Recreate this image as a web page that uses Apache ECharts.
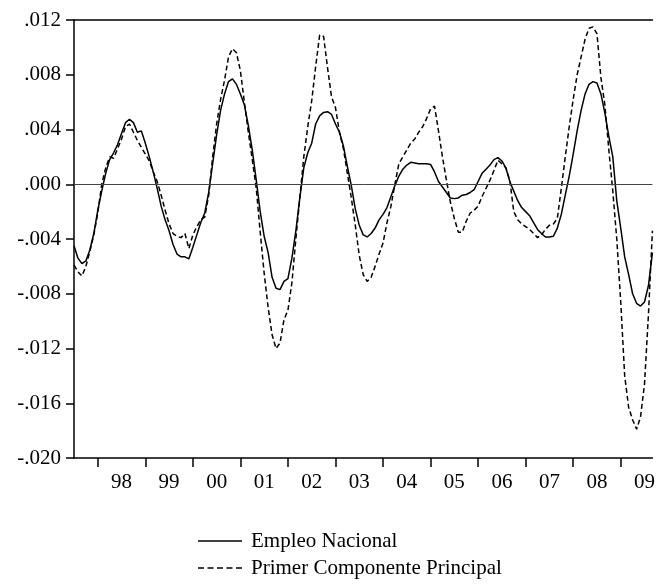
<!DOCTYPE html>
<html>
<head>
<meta charset="utf-8">
<script src="https://cdn.jsdelivr.net/npm/echarts@6/dist/echarts.min.js"></script>
<style>
  html, body { margin: 0; padding: 0; background: #ffffff; }
  #chart { width: 658px; height: 585px; }
</style>
</head>
<body>
<div id="chart"></div>
<script>
  // monthly data, first point = Jul 1997 (index 0), last = Sep 2009 (index 146)
  const yearLabels = ['98', '99', '00', '01', '02', '03', '04', '05', '06', '07', '08', '09']
  const yTicks = [-0.020, -0.016, -0.012, -0.008, -0.004, 0.000, 0.004, 0.008, 0.012]

  const empleoNacional = [
    -0.0045, -0.0054, -0.0058, -0.0056, -0.0048, -0.0036,
    -0.0019, -0.0005, 0.0008, 0.0018, 0.0023, 0.0029, 0.0037, 0.0045, 0.00475, 0.0045, 0.0038, 0.0039,
    0.0030, 0.0020, 0.0009, -0.0003, -0.0016, -0.0026, -0.0034, -0.0044, -0.0051, -0.0053, -0.0053, -0.00545,
    -0.0046, -0.0037, -0.0028, -0.0021, -0.0006, 0.0015, 0.0036, 0.0054, 0.0066, 0.0075, 0.0077, 0.0073,
    0.0066, 0.0058, 0.0043, 0.0025, 0.0003, -0.0020, -0.0038, -0.0050, -0.0068, -0.0076, -0.0077, -0.0071,
    -0.0069, -0.0054, -0.0034, -0.0010, 0.0012, 0.0023, 0.0030, 0.0044, 0.0050, 0.00525, 0.0053, 0.0051,
    0.0044, 0.0038, 0.0028, 0.0013, -0.0001, -0.0018, -0.0030, -0.0037, -0.00385, -0.0036, -0.0032, -0.0026,
    -0.0022, -0.0017, -0.0009, -0.0001, 0.0006, 0.0011, 0.0014, 0.0016, 0.00155, 0.0015, 0.0015, 0.0015,
    0.00145, 0.0009, 0.0002, -0.0002, -0.0006, -0.0010, -0.00105, -0.0010, -0.0008, -0.00075, -0.0006, -0.0004,
    0.0002, 0.0008, 0.0011, 0.0014, 0.0018, 0.00195, 0.0017, 0.0012, 0.0002, -0.0005, -0.0012, -0.0017,
    -0.0020, -0.0023, -0.0028, -0.0033, -0.0036, -0.00385, -0.00385, -0.0038, -0.0032, -0.0022, -0.0008, 0.0006,
    0.0022, 0.0039, 0.0054, 0.0066, 0.0073, 0.0075, 0.0074, 0.0066, 0.0052, 0.0035, 0.0020, -0.0012,
    -0.0032, -0.0053, -0.0066, -0.0080, -0.0087, -0.0089, -0.0086, -0.0074, -0.0050
  ]

  const primerComponente = [
    -0.0059, -0.0064, -0.0067, -0.0060, -0.0049, -0.0037,
    -0.0021, 0.0000, 0.0012, 0.0020, 0.0019, 0.0026, 0.0033, 0.0042, 0.0044, 0.0038, 0.0032, 0.0027,
    0.0022, 0.0017, 0.0009, 0.0002, -0.0008, -0.0019, -0.0029, -0.0036, -0.0038, -0.0039, -0.0036, -0.0047,
    -0.0037, -0.0031, -0.0026, -0.0024, -0.0008, 0.0020, 0.0044, 0.0062, 0.0076, 0.0093, 0.0099, 0.0096,
    0.0083, 0.0060, 0.0038, 0.0018, -0.0003, -0.0035, -0.0065, -0.0090, -0.0110, -0.0120, -0.0116, -0.0099,
    -0.0092, -0.0072, -0.0040, -0.0010, 0.0020, 0.0042, 0.0061, 0.0086, 0.0109, 0.0108, 0.0085, 0.0064,
    0.0056, 0.0038, 0.0026, 0.0008, -0.0010, -0.0030, -0.0052, -0.0066, -0.0071, -0.0068, -0.0060, -0.0051,
    -0.0043, -0.0028, -0.0016, 0.0000, 0.0015, 0.0020, 0.0025, 0.0030, 0.0033, 0.0038, 0.0042, 0.0048,
    0.0055, 0.0057, 0.0039, 0.0020, 0.0003, -0.0013, -0.0025, -0.0035, -0.0035, -0.0027, -0.0021, -0.0019,
    -0.0016, -0.0009, -0.0003, 0.0003, 0.0010, 0.00175, 0.0015, 0.0012, 0.0003, -0.0020, -0.0026, -0.0029,
    -0.0031, -0.0033, -0.0036, -0.0039, -0.0037, -0.0033, -0.0030, -0.0029, -0.0025, -0.0003, 0.0020, 0.0042,
    0.0062, 0.0080, 0.0093, 0.0106, 0.0114, 0.0115, 0.0110, 0.0078, 0.0058, 0.0025, -0.0005, -0.0040,
    -0.0086, -0.0140, -0.0163, -0.0172, -0.0179, -0.0170, -0.0146, -0.0095, -0.0034
  ]

  const serif = 'Liberation Serif'
  const lastIdx = empleoNacional.length - 1
  const yearTicks = yearLabels.map((_, k) => 6 + 12 * k)
  const yearMids = yearLabels.map((_, k) => 12 + 12 * k)

  // legend keys drawn as thin bars (solid / dashed)
  const solidIcon = 'path://M0,0 H44 V1.5 H0 Z'
  const dashedIcon = 'path://M0,0 H6 V1.5 H0 Z M9.5,0 H15.5 V1.5 H9.5 Z M19,0 H25 V1.5 H19 Z M28.5,0 H34.5 V1.5 H28.5 Z M38,0 H44 V1.5 H38 Z'

  function fmtY (v) {
    let s = Math.abs(v).toFixed(3).replace(/^0/, '')
    return (v < -1e-9 ? '-' : '') + s
  }

  let elem = echarts.init(document.getElementById('chart'), null, { renderer: 'canvas' })
  let option = {
    animation: false,
    backgroundColor: '#ffffff',
    grid: {
      left: 74,
      right: 1,
      top: 20,
      bottom: 127,
      show: false
    },
    legend: {
      orient: 'vertical',
      left: 198,
      top: 530,
      padding: 0,
      itemWidth: 44,
      itemHeight: 1.5,
      itemGap: 5,
      data: [
        { name: 'Empleo Nacional', icon: solidIcon },
        { name: 'Primer Componente Principal', icon: dashedIcon }
      ],
      textStyle: {
        fontFamily: serif,
        fontSize: 21,
        color: '#000',
        lineHeight: 22,
        padding: [0, 0, 0, 4]
      }
    },
    xAxis: [
      {
        type: 'value',
        min: 0,
        max: lastIdx,
        splitLine: { show: false },
        axisLine: { onZero: false, lineStyle: { color: '#000', width: 1.5 } },
        axisTick: {
          show: true,
          customValues: yearTicks,
          length: 9,
          lineStyle: { color: '#000', width: 1.5 }
        },
        axisLabel: {
          customValues: yearMids,
          margin: 14,
          fontFamily: serif,
          fontSize: 21,
          color: '#000',
          formatter: (v) => yearLabels[yearMids.indexOf(Math.round(v))] || ''
        }
      },
      {
        // top border of the frame
        type: 'value',
        position: 'top',
        min: 0,
        max: lastIdx,
        splitLine: { show: false },
        axisLine: { show: true, onZero: false, lineStyle: { color: '#000', width: 1.5 } },
        axisTick: { show: false },
        axisLabel: { show: false }
      }
    ],
    yAxis: {
      type: 'value',
      min: -0.020,
      max: 0.012,
      interval: 0.004,
      splitLine: { show: false },
      axisLine: { show: true, onZero: false, lineStyle: { color: '#000', width: 1.5 } },
      axisTick: { show: true, length: 8, lineStyle: { color: '#000', width: 1.5 } },
      axisLabel: {
        customValues: yTicks,
        margin: 13,
        fontFamily: serif,
        fontSize: 21,
        color: '#000',
        formatter: fmtY
      }
    },
    series: [
      {
        name: 'Empleo Nacional',
        type: 'line',
        symbol: 'none',
        data: empleoNacional.map((v, i) => [i, v]),
        lineStyle: { color: '#000', width: 1.5, type: 'solid' },
        itemStyle: { color: '#000' },
        markLine: {
          silent: true,
          symbol: 'none',
          label: { show: false },
          lineStyle: { color: '#444', width: 1, type: 'solid' },
          data: [{ yAxis: 0 }]
        },
        z: 3
      },
      {
        name: 'Primer Componente Principal',
        type: 'line',
        symbol: 'none',
        data: primerComponente.map((v, i) => [i, v]),
        lineStyle: { color: '#000', width: 1.5, type: [5, 3] },
        itemStyle: { color: '#000' },
        z: 2
      }
    ]
  }
  elem.setOption(option)
</script>
</body>
</html>
